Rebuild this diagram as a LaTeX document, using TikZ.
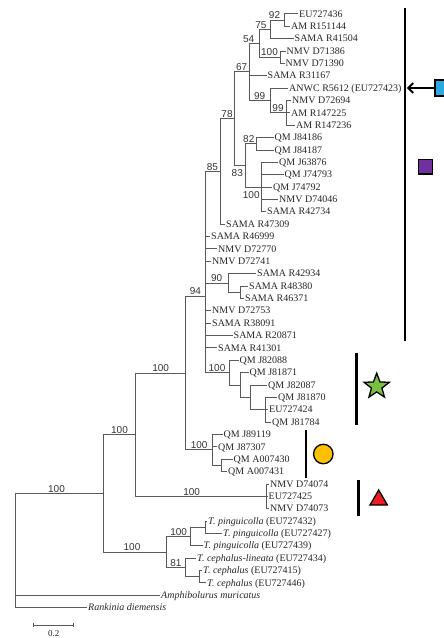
\documentclass[tikz,border=0pt]{standalone}
\usepackage{fontspec}
\setmainfont{Liberation Serif}
\newfontfamily\bsfamily{Liberation Sans}
\usetikzlibrary{arrows.meta,shapes.geometric}

\definecolor{markblue}{HTML}{29ABE2}
\definecolor{markpurple}{HTML}{7030A0}
\definecolor{markgreen}{HTML}{7AC143}
\definecolor{markgold}{HTML}{FFC000}
\definecolor{markred}{HTML}{ED1C24}

\begin{document}
\begin{tikzpicture}[
  x=1pt, y=-1pt,
  branch/.style={draw=black!65, line width=0.7pt},
  leaf/.style={anchor=west, inner sep=1pt, text height=6.5pt, text depth=0pt,
               font=\fontsize{10}{12}\selectfont, text=black!85},
  bs/.style={inner sep=0.8pt, text height=7pt, text depth=0pt,
             font=\bsfamily\fontsize{10}{11}\selectfont, text=black!80},
  cladebar/.style={line width=2.6pt, black},
  marker/.style={draw=black, line width=1.3pt, inner sep=0pt},
  pointer/.style={line width=2pt, -{Straight Barb[length=5pt, width=10pt]}},
]
  \clip (0,0) rectangle (444,638);

  % internal nodes
  \coordinate (root)  at (15.7,550);
  \coordinate (cA)    at (103.3,493.2);
  \coordinate (cB)    at (135.7,434.6);
  \coordinate (cF)    at (185.7,372.9);
  \coordinate (cG)    at (205,296);
  \coordinate (cJ)    at (220,171.3);
  \coordinate (cK)    at (234,118.6);
  \coordinate (c67)   at (249.3,71.8);
  \coordinate (c54)   at (259,43.2);
  \coordinate (c75)   at (270.7,29.3);
  \coordinate (c92)   at (284.3,20.0);
  \coordinate (c100a) at (280,57.1);
  \coordinate (c99a)  at (270,100.4);
  \coordinate (c99b)  at (286,112.8);
  \coordinate (c83)   at (245.5,165.3);
  \coordinate (c82)   at (256,143.7);
  \coordinate (c100b) at (261,187.0);
  \coordinate (c90)   at (228.3,282.9);
  \coordinate (c90b)  at (240,292.1);
  \coordinate (cS)    at (229,372.5);
  \coordinate (cS1)   at (240.7,384.9);
  \coordinate (cS2)   at (250,397.3);
  \coordinate (cS3)   at (265,409.6);
  \coordinate (cH)    at (212.7,449.8);
  \coordinate (cHA)   at (221.7,465.3);
  \coordinate (cN)    at (266.7,496.2);
  \coordinate (cC)    at (166.7,551.9);
  \coordinate (cD)    at (190.7,536.4);
  \coordinate (cP1)   at (205,527.2);
  \coordinate (cE)    at (185,567.3);
  \coordinate (cP2)   at (199.3,576.6);

  % tips
  \node[leaf] (t1)  at (298,13.8)   {EU727436};
  \node[leaf] (t2)  at (290,26.2)   {AM R151144};
  \node[leaf] (t3)  at (293.5,38.5) {SAMA R41504};
  \node[leaf] (t4)  at (285.5,50.9) {NMV D71386};
  \node[leaf] (t5)  at (284.5,63.3) {NMV D71390};
  \node[leaf] (t6)  at (266.5,75.7) {SAMA R31167};
  \node[leaf] (t7)  at (288,88.0)   {ANWC R5612 (EU727423)};
  \node[leaf] (t8)  at (291,100.4)  {NMV D72694};
  \node[leaf] (t9)  at (290,112.8)  {AM R147225};
  \node[leaf] (t10) at (295,125.1)  {AM R147236};
  \node[leaf] (t11) at (273.5,137.5) {QM J84186};
  \node[leaf] (t12) at (273.5,149.9) {QM J84187};
  \node[leaf] (t13) at (278,162.2)  {QM J63876};
  \node[leaf] (t14) at (283.5,174.6) {QM J74793};
  \node[leaf] (t15) at (272,187.0)  {QM J74792};
  \node[leaf] (t16) at (278,199.4)  {NMV D74046};
  \node[leaf] (t17) at (266,211.7)  {SAMA R42734};
  \node[leaf] (t18) at (225,224.1)  {SAMA R47309};
  \node[leaf] (t19) at (210,236.5)  {SAMA R46999};
  \node[leaf] (t20) at (217,248.8)  {NMV D72770};
  \node[leaf] (t21) at (211,261.2)  {NMV D72741};
  \node[leaf] (t22) at (256,273.6)  {SAMA R42934};
  \node[leaf] (t23) at (248,285.9)  {SAMA R48380};
  \node[leaf] (t24) at (244,298.3)  {SAMA R46371};
  \node[leaf] (t25) at (211,310.7)  {NMV D72753};
  \node[leaf] (t26) at (211,323.1)  {SAMA R38091};
  \node[leaf] (t27) at (232.5,335.4) {SAMA R20871};
  \node[leaf] (t28) at (217,347.8)  {SAMA R41301};
  \node[leaf] (t29) at (238.5,360.2) {QM J82088};
  \node[leaf] (t30) at (248.5,372.5) {QM J81871};
  \node[leaf] (t31) at (267,384.9)  {QM J82087};
  \node[leaf] (t32) at (277,397.3)  {QM J81870};
  \node[leaf] (t33) at (268,409.6)  {EU727424};
  \node[leaf] (t34) at (271,422.0)  {QM J81784};
  \node[leaf] (t35) at (222.5,434.4) {QM J89119};
  \node[leaf] (t36) at (217,446.8)  {QM J87307};
  \node[leaf] (t37) at (232.5,459.1) {QM A007430};
  \node[leaf] (t38) at (227,471.5)  {QM A007431};
  \node[leaf] (t39) at (269,483.9)  {NMV D74074};
  \node[leaf] (t40) at (267.5,496.2) {EU727425};
  \node[leaf] (t41) at (269,508.6)  {NMV D74073};
  \node[leaf] (t42) at (207,521.0)  {\textit{T. pinguicolla} (EU727432)};
  \node[leaf] (t43) at (222,533.3)  {\textit{T. pinguicolla} (EU727427)};
  \node[leaf] (t44) at (202.5,545.7) {\textit{T. pinguicolla} (EU727439)};
  \node[leaf] (t45) at (196,558.1)  {\textit{T. cephalus-lineata} (EU727434)};
  \node[leaf] (t46) at (202,570.5)  {\textit{T. cephalus} (EU727415)};
  \node[leaf] (t47) at (206,582.8)  {\textit{T. cephalus} (EU727446)};
  \node[leaf] (t48) at (160,595.2)  {\textit{Amphibolurus muricatus}};
  \node[leaf] (t49) at (87,607.6)   {\textit{Rankinia diemensis}};

  % branches
  \draw[branch] (root) |- node[bs, pos=0.75, above, xshift=-3pt] {100} (cA);
  \draw[branch] (root) |- (t48);
  \draw[branch] (root) |- (t49);
  \draw[branch] (cA) |- node[bs, pos=0.75, above] {100} (cB);
  \draw[branch] (cA) |- node[bs, pos=0.75, above, xshift=-3pt] {100} (cC);
  \draw[branch] (cB) |- node[bs, pos=0.75, above] {100} (cF);
  \draw[branch] (cB) |- node[bs, pos=0.75, above, xshift=-9.5pt] {100} (cN);
  \draw[branch] (cF) |- node[bs, pos=0.75, above] {94} (cG);
  \draw[branch] (cF) |- node[bs, pos=0.75, above] {100} (cH);
  \draw[branch] (cG) |- node[bs, pos=0.75, above] {85} (cJ);
  \draw[branch] (cG) |- node[bs, pos=0.75, above] {90} (c90);
  \draw[branch] (cG) |- node[bs, pos=0.75, above] {100} (cS);
  \foreach \t in {t19,t20,t21,t25,t26,t27,t28}
    \draw[branch] (cG) |- (\t);
  \draw[branch] (cJ) |- node[bs, pos=0.75, above] {78} (cK);
  \draw[branch] (cJ) |- (t18);
  \draw[branch] (cK) |- node[bs, pos=0.75, above] {67} (c67);
  \draw[branch] (cK) |- node[bs, pos=0.75, below=3pt, xshift=-2.5pt] {83} (c83);
  \draw[branch] (c67) |- node[bs, pos=0.75, above, xshift=-5.5pt] {54} (c54);
  \draw[branch] (c67) |- (t6);
  \draw[branch] (c67) |- node[bs, pos=0.75, above] {99} (c99a);
  \draw[branch] (c54) |- node[bs, pos=0.75, above, xshift=-4pt] {75} (c75);
  \draw[branch] (c54) |- node[bs, pos=0.75, above] {100} (c100a);
  \draw[branch] (c75) |- node[bs, pos=0.75, above, xshift=-3pt] {92} (c92);
  \draw[branch] (c75) |- (t3);
  \draw[branch] (c92) |- (t1);
  \draw[branch] (c92) |- (t2);
  \draw[branch] (c100a) |- (t4);
  \draw[branch] (c100a) |- (t5);
  \draw[branch] (c99a) |- (t7);
  \draw[branch] (c99a) |- node[bs, pos=0.75, above] {99} (c99b);
  \foreach \t in {t8,t9,t10}
    \draw[branch] (c99b) |- (\t);
  \draw[branch] (c83) |- node[bs, pos=0.75, above, xshift=-2pt] {82} (c82);
  \draw[branch] (c83) |- node[bs, pos=0.75, below=3pt, xshift=-2pt] {100} (c100b);
  \draw[branch] (c82) |- (t11);
  \draw[branch] (c82) |- (t12);
  \foreach \t in {t13,t14,t15,t16,t17}
    \draw[branch] (c100b) |- (\t);
  \draw[branch] (c90) |- (t22);
  \draw[branch] (c90) |- (c90b);
  \draw[branch] (c90b) |- (t23);
  \draw[branch] (c90b) |- (t24);
  \draw[branch] (cS) |- (t29);
  \draw[branch] (cS) |- (cS1);
  \draw[branch] (cS1) |- (t30);
  \draw[branch] (cS1) |- (cS2);
  \draw[branch] (cS2) |- (t31);
  \draw[branch] (cS2) |- (cS3);
  \foreach \t in {t32,t33,t34}
    \draw[branch] (cS3) |- (\t);
  \draw[branch] (cH) |- (t35);
  \draw[branch] (cH) |- (t36);
  \draw[branch] (cH) |- (cHA);
  \draw[branch] (cHA) |- (t37);
  \draw[branch] (cHA) |- (t38);
  \foreach \t in {t39,t40,t41}
    \draw[branch] (cN) |- (\t);
  \draw[branch] (cC) |- node[bs, pos=0.75, above] {100} (cD);
  \draw[branch] (cC) |- node[bs, pos=0.75, above] {81} (cE);
  \draw[branch] (cD) |- (cP1);
  \draw[branch] (cD) |- (t44);
  \draw[branch] (cP1) |- (t42);
  \draw[branch] (cP1) |- (t43);
  \draw[branch] (cE) |- (t45);
  \draw[branch] (cE) |- (cP2);
  \draw[branch] (cP2) |- (t46);
  \draw[branch] (cP2) |- (t47);

  % scale bar
  \coordinate (sbL) at (33.3,625);
  \coordinate (sbR) at (74,625);
  \draw[branch, {Bar[width=4.5pt]}-{Bar[width=4.5pt]}] (sbL) -- node[below=1.5pt, font=\fontsize{9}{10}\selectfont, text=black!85] (sblab) {0.2} (sbR);

  % clade bars and markers
  \coordinate (bar1top) at (405,8.3);
  \coordinate (bar1bot) at (405,340.7);
  \coordinate (bar2top) at (356.7,353.3);
  \coordinate (bar2bot) at (356.7,425);
  \coordinate (bar3top) at (306,430);
  \coordinate (bar3bot) at (306,478.3);
  \coordinate (bar4top) at (358.3,480);
  \coordinate (bar4bot) at (358.3,516);
  \draw[cladebar] (bar1top) -- (bar1bot);
  \draw[cladebar] (bar2top) -- (bar2bot);
  \draw[cladebar] (bar3top) -- (bar3bot);
  \draw[cladebar] (bar4top) -- (bar4bot);

  \node[marker, fill=markblue, minimum size=16pt] (blue) at (443,88) {};
  \coordinate (hit) at (406.8,88);
  \draw[pointer] (blue) -- (hit);
  \node[marker, fill=markpurple, minimum size=14.5pt] (purple) at (425.5,166.7) {};
  \node[marker, star, star points=5, star point ratio=2.4, fill=markgreen,
        minimum size=26.5pt] (green) at (376.7,386.4) {};
  \node[marker, circle, fill=markgold, minimum size=19.5pt] (gold) at (323.3,454) {};
  \node[marker, regular polygon, regular polygon sides=3, fill=markred,
        minimum size=20pt] (red) at (378.7,500) {};
\end{tikzpicture}
\end{document}
